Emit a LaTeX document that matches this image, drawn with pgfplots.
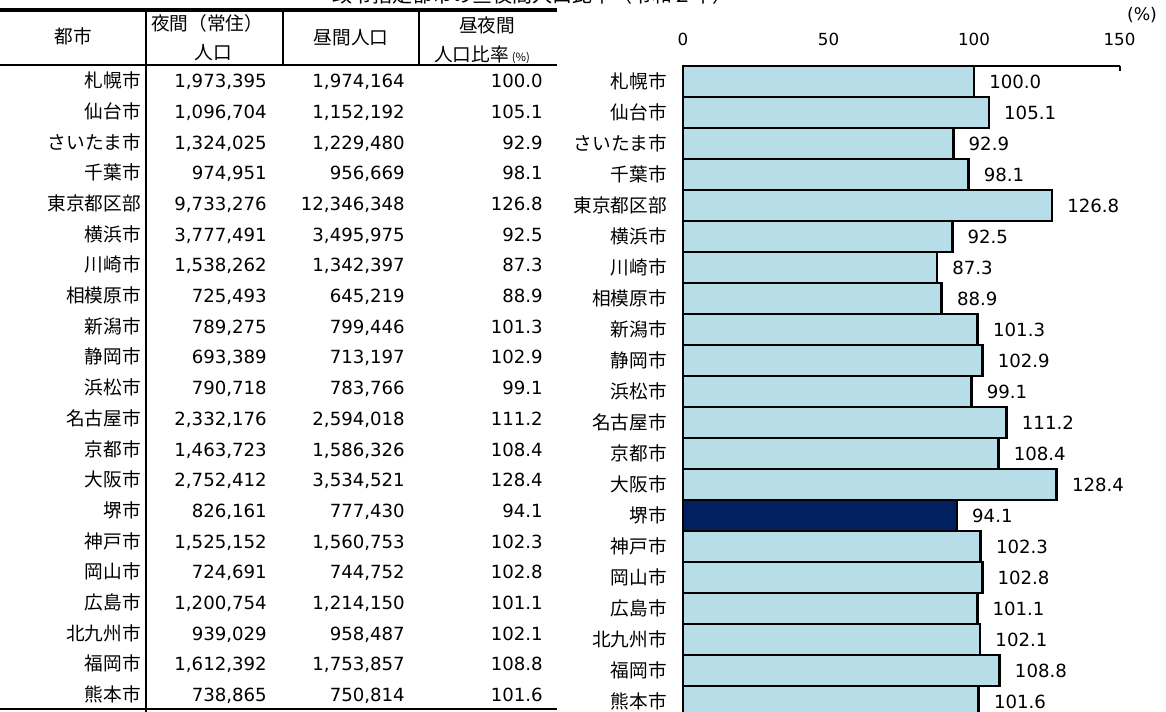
\documentclass[border=0pt]{standalone}
\usepackage{fontspec}
\setmainfont{DejaVu Sans}
\newfontfamily\jp{Noto Sans CJK JP}
\usepackage{pgfplots}
\pgfplotsset{compat=1.18}
\definecolor{barblue}{RGB}{183,221,232}
\definecolor{navybar}{RGB}{0,32,96}

\newcommand\jfont{\jp\fontsize{14}{16}\selectfont}
\newcommand\nfont{\fontsize{13.6}{16}\selectfont}
% table row: index, city, night, day, ratio
\newcommand\trow[5]{%
  \node[cell,font=\jfont,anchor=east] at (141,{81+#1*30.7}) {#2};
  \node[cell,font=\nfont,anchor=east] at (267,{81+#1*30.7}) {#3};
  \node[cell,font=\nfont,anchor=east] at (405,{81+#1*30.7}) {#4};
  \node[cell,font=\nfont,anchor=east] at (543,{81+#1*30.7}) {#5};
}

\begin{document}
\begin{tikzpicture}
\useasboundingbox (0,0) rectangle (874.5pt,-534pt);
\clip (0,0) rectangle (874.5pt,-534pt);
\begin{scope}[x=0.75pt,y=-0.75pt,cell/.style={inner sep=0pt,text height=10pt,text depth=0pt}]
  % title (clipped at the top of the picture)
  \node[font=\jp\fontsize{15}{16}\selectfont,anchor=base,inner sep=0pt] at (532,3) {政令指定都市の昼夜間人口比率（令和２年）};
  % table rules
  \draw[line width=2.6pt] (0,10) -- (557,10);
  \draw[line width=2.2pt] (0,65) -- (557,65);
  \draw[line width=1.5pt] (146,10) -- (146,712);
  \draw[line width=1.5pt] (283,10) -- (283,65);
  \draw[line width=1.5pt] (419,10) -- (419,65);
  \draw[line width=2.2pt] (0,709) -- (557,709);
  % header
  \node[cell,font=\jfont] at (73,37) {都市};
  \node[cell,font=\jfont] at (207,24) {夜間（常住）};
  \node[cell,font=\jfont] at (213,53) {人口};
  \node[cell,font=\jfont] at (351,38) {昼間人口};
  \node[cell,font=\jfont] at (487,26) {昼夜間};
  \node[cell,font=\jfont] at (482,55) {人口比率\,{\fontsize{8.5}{9}\selectfont (\%)}};
  % rows
  \trow{0}{札幌市}{1,973,395}{1,974,164}{100.0}
  \trow{1}{仙台市}{1,096,704}{1,152,192}{105.1}
  \trow{2}{さいたま市}{1,324,025}{1,229,480}{92.9}
  \trow{3}{千葉市}{974,951}{956,669}{98.1}
  \trow{4}{東京都区部}{9,733,276}{12,346,348}{126.8}
  \trow{5}{横浜市}{3,777,491}{3,495,975}{92.5}
  \trow{6}{川崎市}{1,538,262}{1,342,397}{87.3}
  \trow{7}{相模原市}{725,493}{645,219}{88.9}
  \trow{8}{新潟市}{789,275}{799,446}{101.3}
  \trow{9}{静岡市}{693,389}{713,197}{102.9}
  \trow{10}{浜松市}{790,718}{783,766}{99.1}
  \trow{11}{名古屋市}{2,332,176}{2,594,018}{111.2}
  \trow{12}{京都市}{1,463,723}{1,586,326}{108.4}
  \trow{13}{大阪市}{2,752,412}{3,534,521}{128.4}
  \trow{14}{堺市}{826,161}{777,430}{94.1}
  \trow{15}{神戸市}{1,525,152}{1,560,753}{102.3}
  \trow{16}{岡山市}{724,691}{744,752}{102.8}
  \trow{17}{広島市}{1,200,754}{1,214,150}{101.1}
  \trow{18}{北九州市}{939,029}{958,487}{102.1}
  \trow{19}{福岡市}{1,612,392}{1,753,857}{108.8}
  \trow{20}{熊本市}{738,865}{750,814}{101.6}
  % unit
  \node[font=\fontsize{13}{14}\selectfont,inner sep=0pt] at (1142,15) {(\%)};
\end{scope}

\begin{axis}[
  at={(512.25pt,-49.5pt)}, anchor=north west,
  scale only axis, width=327.4pt, height=488.25pt,
  xmin=0, xmax=150, ymin=-0.5, ymax=20.5,
  xbar, bar width=1, bar shift=0pt,
  axis x line*=top, axis y line*=left,
  axis line style={line width=2pt,-},
  xtick={0,50,100,150}, tick align=inside,
  major tick length=4pt,
  xtick style={line width=1.5pt,black},
  xticklabel style={font=\fontsize{12.5}{13}\selectfont,inner sep=0pt,anchor=south,yshift=15pt},
  /pgf/number format/assume math mode=true,
  ytick={0,...,20},
  yticklabels={熊本市,福岡市,北九州市,広島市,岡山市,神戸市,堺市,大阪市,京都市,名古屋市,浜松市,静岡市,新潟市,相模原市,川崎市,横浜市,東京都区部,千葉市,さいたま市,仙台市,札幌市},
  ytick style={draw=none},
  yticklabel style={font=\jfont,inner sep=0pt,xshift=-12pt},
  nodes near coords,
  nodes near coords style={font=\fontsize{13.6}{14}\selectfont,anchor=west,inner sep=0pt,xshift=10.5pt,
    /pgf/number format/.cd,fixed,fixed zerofill,precision=1,assume math mode=true},
  clip=false,
]
\addplot[fill=barblue,draw=black,line width=2pt] coordinates {
  (100.0,20) (105.1,19) (92.9,18) (98.1,17) (126.8,16) (92.5,15) (87.3,14)
  (88.9,13) (101.3,12) (102.9,11) (99.1,10) (111.2,9) (108.4,8) (128.4,7)
  (102.3,5) (102.8,4) (101.1,3) (102.1,2) (108.8,1) (101.6,0)
};
\addplot[fill=navybar,draw=black,line width=2pt] coordinates {(94.1,6)};
\end{axis}
\end{tikzpicture}
\end{document}
